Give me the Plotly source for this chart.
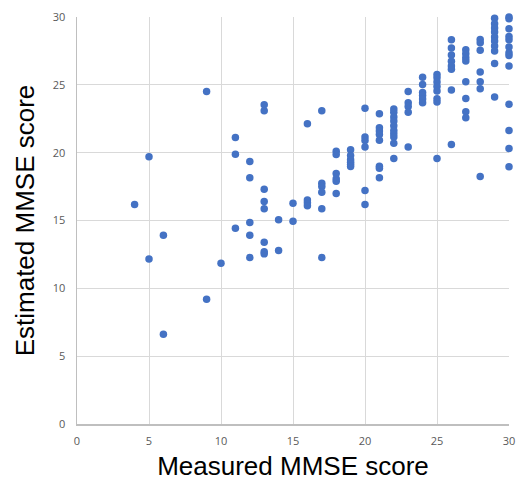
import plotly.graph_objects as go

# Measured MMSE score -> list of estimated scores
measured = []
estimated = []
data_by_x = {
    4: [16.18],
    5: [19.7, 12.17],
    6: [13.92, 6.61],
    9: [24.51, 9.2],
    10: [11.85],
    11: [21.12, 19.89, 14.43],
    12: [19.35, 18.15, 14.85, 13.92, 12.27],
    13: [23.53, 23.09, 17.31, 16.4, 15.86, 13.4, 12.69, 12.54],
    14: [15.05, 12.79],
    15: [16.28, 14.95],
    16: [22.13, 16.52, 16.3, 16.08],
    17: [23.09, 17.75, 17.5, 17.09, 15.86, 12.27],
    18: [20.11, 19.87, 18.47, 18.07, 17.9, 16.99],
    19: [20.21, 19.79, 19.47, 19.3, 19.13, 18.98],
    20: [23.28, 21.15, 20.9, 20.41, 17.21, 16.18],
    21: [22.87, 21.83, 21.59, 21.34, 20.92, 19.0, 18.86, 18.15],
    22: [23.21, 22.97, 22.62, 22.33, 21.98, 21.64, 21.39, 21.15, 20.7, 19.57],
    23: [24.51, 23.68, 23.41, 22.97, 20.41],
    24: [25.55, 25.03, 24.44, 24.22, 23.95, 23.68],
    25: [25.77, 25.53, 25.21, 24.88, 24.54, 23.98, 23.73, 19.57],
    26: [28.33, 27.71, 27.19, 26.73, 26.38, 26.14, 24.61, 20.6],
    27: [27.59, 27.29, 27.0, 26.75, 25.23, 24.0, 23.01, 22.57],
    28: [28.35, 28.1, 27.54, 25.94, 25.23, 24.71, 18.24],
    29: [29.9, 29.5, 29.18, 28.89, 28.52, 28.23, 27.86, 27.49, 26.58, 24.1],
    30: [30.0, 29.88, 29.14, 28.57, 28.33, 27.79, 27.37, 27.17, 26.38, 23.56, 21.64, 20.31, 18.96],
}
for xv, ys in data_by_x.items():
    for yv in ys:
        measured.append(xv)
        estimated.append(yv)

ticks = [0, 5, 10, 15, 20, 25, 30]

fig = go.Figure(go.Scatter(
    x=measured, y=estimated, mode="markers",
    marker=dict(size=7.5, color="#4472C4"),
    cliponaxis=False, showlegend=False, hoverinfo="skip",
))

axis_common = dict(
    range=[0, 30], tickvals=ticks, showgrid=True, gridcolor="#d9d9d9", gridwidth=1,
    zeroline=False, showline=True, linecolor="#bfbfbf", linewidth=1.5,
    tickfont=dict(family="Open Sans", size=11, color="#595959"),
    ticks="", fixedrange=True, automargin=False,
)
fig.update_xaxes(**axis_common, title=dict(text="Measured MMSE score",
                 font=dict(family="Liberation Sans", size=26, color="#000000"), standoff=12),
                 ticklabelstandoff=6)
fig.update_yaxes(**axis_common, title=dict(text="Estimated MMSE score",
                 font=dict(family="Liberation Sans", size=26, color="#000000"), standoff=10),
                 ticklabelstandoff=8)

fig.update_layout(
    width=517, height=481,
    margin=dict(l=77, r=8, t=17, b=57),
    paper_bgcolor="white", plot_bgcolor="white",
)
fig.write_html(
    "out.html",
    config={"displayModeBar": False, "staticPlot": True},
    post_script="document.body.style.margin='0';document.documentElement.style.overflow='hidden';",
)
